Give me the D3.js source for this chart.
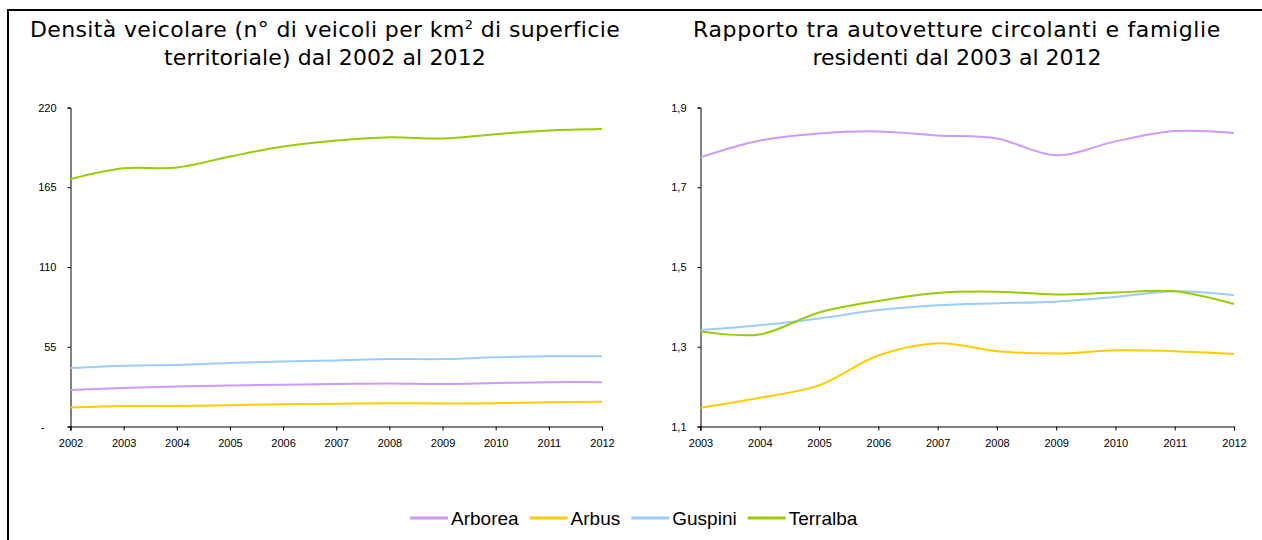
<!DOCTYPE html>
<html>
<head>
<meta charset="utf-8">
<script src="https://cdn.jsdelivr.net/npm/d3@7"></script>
<style>
  body { margin: 0; background: #fff; }
  svg { display: block; }
  .title { font-family: 'DejaVu Sans', 'Lato', sans-serif; font-size: 22px; fill: #000; }
  .axis text { font-family: 'Liberation Sans', Arial, sans-serif; font-size: 11px; fill: #000; }
  .legend text { font-family: 'Liberation Sans', Arial, sans-serif; font-size: 19px; fill: #000; }
</style>
</head>
<body>
<div id="chart"></div>
<script>
// data
const names = ['Arborea', 'Arbus', 'Guspini', 'Terralba'];
const colors = ['#cc99ff', '#ffcc00', '#99ccff', '#99cc00'];

const yearsDensity = [2002, 2003, 2004, 2005, 2006, 2007, 2008, 2009, 2010, 2011, 2012];
const densArborea  = [25.1, 26.5, 27.6, 28.3, 28.8, 29.3, 29.7, 29.3, 30.0, 30.6, 30.6];
const densArbus    = [13.1, 14.1, 14.1, 14.7, 15.4, 15.7, 16.1, 15.9, 16.1, 16.8, 17.0];
const densGuspini  = [40.3, 41.9, 42.4, 43.8, 44.9, 45.6, 46.5, 46.5, 47.7, 48.4, 48.4];
const densTerralba = [170.7, 178.1, 178.6, 186.2, 193.1, 197.2, 199.5, 198.6, 201.6, 204.1, 205.1];
const densTicks = [0, 55, 110, 165, 220];

const yearsRatio = [2003, 2004, 2005, 2006, 2007, 2008, 2009, 2010, 2011, 2012];
const ratioArborea  = [1.775, 1.817, 1.835, 1.840, 1.830, 1.822, 1.780, 1.815, 1.841, 1.836];
const ratioArbus    = [1.147, 1.172, 1.203, 1.278, 1.309, 1.289, 1.283, 1.291, 1.289, 1.282];
const ratioGuspini  = [1.342, 1.354, 1.371, 1.392, 1.404, 1.409, 1.413, 1.425, 1.439, 1.429];
const ratioTerralba = [1.338, 1.331, 1.386, 1.415, 1.435, 1.438, 1.431, 1.436, 1.439, 1.407];
const ratioTicks = [1.1, 1.3, 1.5, 1.7, 1.9];

const W = 1262, H = 540;

const svg = d3.select('#chart')
  .append('svg')
  .attr('width', W)
  .attr('height', H);

svg.append('rect').attr('width', W).attr('height', H).attr('fill', '#fff');

// frame (left and top edge only visible)
svg.append('path')
  .attr('d', `M8,${H} V10 H${W}`)
  .attr('fill', 'none')
  .attr('stroke', '#000')
  .attr('stroke-width', 2);

const it = d3.formatLocale({decimal: ',', thousands: '.', grouping: [3], currency: ['', '€']});

function drawPanel(opts) {
  const x = d3.scaleLinear().domain(d3.extent(opts.years)).range([opts.x0, opts.x1]);
  const y = d3.scaleLinear().domain(opts.domain).range([426.5, 107.5]);

  // title, each line stretched a bit to the width of the original (wider font there)
  opts.title.forEach((line, i) => {
    const t = svg.append('text')
      .attr('class', 'title')
      .attr('text-anchor', 'middle')
      .attr('x', opts.titleX)
      .attr('y', 37 + i * 28);
    let chars = 0;
    line.forEach(part => {
      const s = t.append('tspan').text(part.t);
      chars += part.t.length;
      if (part.sup) s.attr('font-size', '13px').attr('dy', '-8');
      if (part.after) s.attr('dy', '8');
    });
    const w = t.node().getComputedTextLength();
    const target = opts.titleW[i];
    t.attr('letter-spacing', ((target - w) / chars).toFixed(2) + 'px');
  });

  // x axis
  svg.append('g')
    .attr('class', 'axis')
    .attr('transform', 'translate(0,426.5)')
    .call(d3.axisBottom(x)
      .tickValues(opts.years)
      .tickFormat(d3.format('d'))
      .tickSizeInner(4)
      .tickSizeOuter(4)
      .tickPadding(9))
    .call(g => g.selectAll('line,path').attr('stroke', '#000'));

  // y axis
  const ya = svg.append('g')
    .attr('class', 'axis')
    .attr('transform', `translate(${opts.x0},0)`)
    .call(d3.axisLeft(y)
      .tickValues(opts.ticks)
      .tickFormat(opts.fmt)
      .tickSizeInner(3)
      .tickSizeOuter(3)
      .tickPadding(11))
    .call(g => g.selectAll('line,path').attr('stroke', '#000'));
  // excel shows zero as a dash, further left
  ya.selectAll('.tick text').filter(d => d === 0).attr('dx', '-12');
  // axis line goes a little below the x axis
  svg.append('line')
    .attr('x1', opts.x0).attr('x2', opts.x0)
    .attr('y1', 426.5).attr('y2', 430.5)
    .attr('stroke', '#000');

  const line = d3.line()
    .x((d, i) => x(opts.years[i]))
    .y(d => y(d))
    .curve(d3.curveCatmullRom.alpha(0.5));

  opts.series.forEach((s, i) => {
    svg.append('path')
      .datum(s)
      .attr('fill', 'none')
      .attr('stroke', colors[i])
      .attr('stroke-width', 2)
      .attr('d', line);
  });
}

drawPanel({
  years: yearsDensity,
  domain: [0, 220],
  ticks: densTicks,
  fmt: d => d === 0 ? '-' : d3.format('d')(d),
  x0: 70.5, x1: 602,
  titleX: 325,
  titleW: [590, 322],
  title: [
    [{t: 'Densità veicolare (n° di veicoli per km'}, {t: '2', sup: true}, {t: ' di superficie', after: true}],
    [{t: 'territoriale) dal 2002 al 2012'}]
  ],
  series: [densArborea, densArbus, densGuspini, densTerralba]
});

drawPanel({
  years: yearsRatio,
  domain: [1.1, 1.9],
  ticks: ratioTicks,
  fmt: it.format('.1f'),
  x0: 700.5, x1: 1234,
  titleX: 957,
  titleW: [528, 289],
  title: [
    [{t: 'Rapporto tra autovetture circolanti e famiglie'}],
    [{t: 'residenti dal 2003 al 2012'}]
  ],
  series: [ratioArborea, ratioArbus, ratioGuspini, ratioTerralba]
});

// legend
const legend = svg.append('g').attr('class', 'legend').attr('transform', 'translate(410,518)');
let lx = 0;
names.forEach((n, i) => {
  legend.append('line')
    .attr('x1', lx).attr('x2', lx + 38)
    .attr('y1', 0).attr('y2', 0)
    .attr('stroke', colors[i])
    .attr('stroke-width', 3);
  const txt = legend.append('text')
    .attr('x', lx + 41)
    .attr('y', 7)
    .text(n);
  lx += 41 + txt.node().getComputedTextLength() + 11;
});
</script>
</body>
</html>
